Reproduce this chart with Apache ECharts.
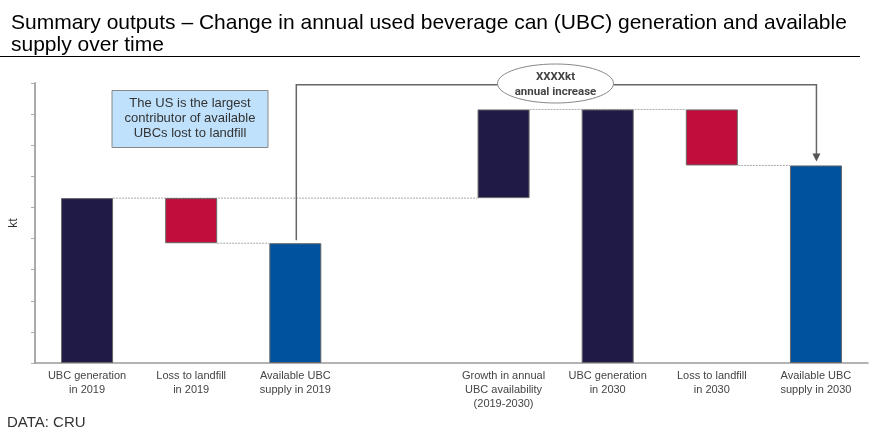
<!DOCTYPE html>
<html><head><meta charset="utf-8">
<script src="https://cdn.jsdelivr.net/npm/echarts@6/dist/echarts.min.js"></script>
<style>html,body{margin:0;padding:0;background:#fff}#c{width:877px;height:442px}</style>
</head><body><div id="c"></div>
<script>
// ---- data ----
const categories = [
  'UBC generation\nin 2019', 'Loss to landfill\nin 2019', 'Available UBC\nsupply in 2019', '',
  'Growth in annual\nUBC availability\n(2019-2030)', 'UBC generation\nin 2030', 'Loss to landfill\nin 2030', 'Available UBC\nsupply in 2030'
];
const kinds = ['gen', 'loss', 'avail', 'gap', 'growth', 'gen', 'loss', 'avail'];
const barValues = [5.3, 1.45, 3.85, null, 2.85, 8.15, 1.8, 6.35];
const yTicks = [0, 1, 2, 3, 4, 5, 6, 7, 8, 9];

// ---- derived waterfall bases ----
const baseValues = [];
let lastGen = 0;
kinds.forEach((k, i) => {
  const v = barValues[i];
  if (k === 'gap') { baseValues.push(null); return; }
  if (k === 'gen') { baseValues.push(0); lastGen = v; }
  else if (k === 'avail') { baseValues.push(0); }
  else if (k === 'loss') { baseValues.push(lastGen - v); }
  else if (k === 'growth') { baseValues.push(lastGen); }
});
const tops = barValues.map((v, i) => v == null ? null : baseValues[i] + v);

const colorMap = { gen: '#201a47', growth: '#201a47', loss: '#c10d3c', avail: '#00529f' };

// connectors: [fromIndex, toIndex, level]
const connectors = [
  [0, 4, tops[0]],
  [1, 2, baseValues[1]],
  [4, 6, tops[4]],
  [6, 7, baseValues[6]]
];

const chart = echarts.init(document.getElementById('c'));
const HALF = 26;

chart.setOption({
  animation: false,
  backgroundColor: '#fff',
  title: {
    text: 'Summary outputs \u2013 Change in annual used beverage can (UBC) generation and available\nsupply over time',
    left: 6, top: 7,
    textStyle: { fontFamily: 'Liberation Sans', fontSize: 21, fontWeight: 'normal', color: '#000', lineHeight: 22 }
  },
  grid: { left: 34, right: 9, top: 83, bottom: 79 },
  xAxis: {
    type: 'category', data: categories,
    axisTick: { show: false },
    axisLine: { lineStyle: { color: '#9a9a9a', width: 1.5 } },
    axisLabel: { interval: 0, fontFamily: 'Liberation Sans', fontSize: 11, color: '#444', lineHeight: 14, margin: 6 }
  },
  yAxis: {
    type: 'value', min: 0, max: 9, interval: 1,
    name: 'kt', nameLocation: 'middle', nameGap: 15, nameRotate: 90,
    nameTextStyle: { fontFamily: 'Liberation Sans', fontSize: 12, color: '#333' },
    axisLine: { show: true, lineStyle: { color: '#aaa', width: 2 } },
    axisTick: { show: true, length: 4, lineStyle: { color: '#aaa' } },
    axisLabel: { show: false },
    splitLine: { show: false }
  },
  series: [
    {
      type: 'custom', z: 1, silent: true,
      data: connectors,
      renderItem: (params, api) => {
        const a = api.coord([api.value(0), api.value(2)]);
        const b = api.coord([api.value(1), api.value(2)]);
        return {
          type: 'line',
          shape: { x1: a[0] + HALF, y1: a[1], x2: b[0] - HALF, y2: b[1] },
          style: { stroke: '#aaa', lineWidth: 1, lineDash: [2, 1] }
        };
      }
    },
    {
      type: 'bar', stack: 'w', barWidth: 52, z: 2, silent: true,
      itemStyle: { color: 'transparent' },
      data: baseValues
    },
    {
      type: 'bar', stack: 'w', barWidth: 52, z: 2, silent: true,
      data: barValues.map((v, i) => ({
        value: v,
        itemStyle: { color: colorMap[kinds[i]] || 'transparent', borderColor: '#666', borderWidth: 1 }
      }))
    },
    {
      type: 'custom', z: 3, silent: true,
      data: [[2, 7, tops[2], 8.94, tops[7]]],
      renderItem: (params, api) => {
        const s = api.coord([api.value(0), api.value(2)]);
        const t = api.coord([api.value(0), api.value(3)]);
        const e = api.coord([api.value(1), api.value(4)]);
        const x1 = s[0] + 1, x2 = e[0] + 0.5;
        const yTop = t[1];
        const yStart = s[1] - 3;
        const tip = e[1] - 4;
        return {
          type: 'group',
          children: [
            {
              type: 'polyline',
              shape: { points: [[x1, yStart], [x1, yTop], [x2, yTop], [x2, tip - 6]] },
              style: { stroke: '#666', lineWidth: 1.5, fill: null }
            },
            {
              type: 'polygon',
              shape: { points: [[x2 - 4, tip - 8], [x2 + 4, tip - 8], [x2, tip]] },
              style: { fill: '#555' }
            }
          ]
        };
      }
    }
  ],
  graphic: [
    { type: 'line', shape: { x1: 0, y1: 56.5, x2: 860, y2: 56.5 }, style: { stroke: '#000', lineWidth: 1 } },
    {
      type: 'rect', shape: { x: 112, y: 90.5, width: 156, height: 57 },
      style: { fill: '#bfe1fb', stroke: '#888', lineWidth: 1 }, z: 10
    },
    {
      type: 'text', x: 190, y: 118.5, z: 11,
      style: {
        text: 'The US is the largest\ncontributor of available\nUBCs lost to landfill',
        fontFamily: 'Liberation Sans', fontSize: 13, lineHeight: 15, fill: '#333',
        align: 'center', verticalAlign: 'middle'
      }
    },
    {
      type: 'ellipse', shape: { cx: 555.5, cy: 83.5, rx: 58, ry: 19.5 }, z: 10,
      style: { fill: '#fff', stroke: '#888', lineWidth: 1 }
    },
    {
      type: 'text', x: 555.5, y: 85, z: 11,
      style: {
        text: 'XXXXkt\nannual increase',
        fontFamily: 'Roboto', fontWeight: 'bold', fontSize: 11.5, lineHeight: 15, fill: '#444',
        align: 'center', verticalAlign: 'middle'
      }
    },
    {
      type: 'text', left: 7, top: 415,
      style: { text: 'DATA: CRU', fontFamily: 'Liberation Sans', fontSize: 15, fill: '#333' }
    }
  ]
});
</script>
</body></html>
